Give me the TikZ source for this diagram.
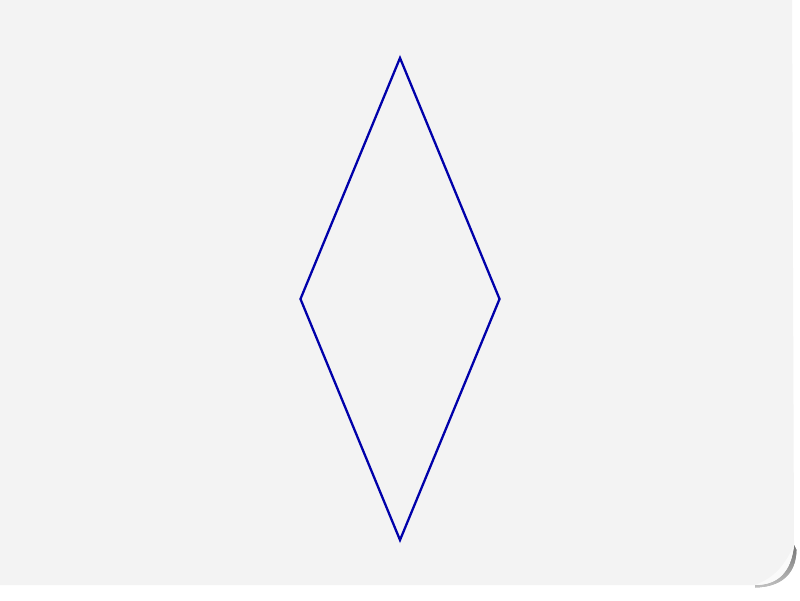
\documentclass[tikz,border=0pt]{standalone}
\usepackage{xcolor}
\definecolor{paper}{RGB}{243,243,243}
\definecolor{curl}{RGB}{250,250,250}
\definecolor{shade}{RGB}{225,225,225}
\definecolor{rhblue}{RGB}{0,0,170}
\usepackage{tikz}
\usetikzlibrary{shapes.geometric}
\tikzset{
  sheet/.style={fill=paper, draw=none},
  rhombus/.style={diamond, draw=rhblue, line width=1.3pt,
    minimum width=4cm, minimum height=9.66cm, inner sep=0pt}
}

\begin{document}
\begin{tikzpicture}

  %% Page and sheet of paper
  \fill[white] (0,0) rectangle (16,12);
  \useasboundingbox (0,0) rectangle (16,12);
  \fill[shade, opacity=0.6] (15.1,0.25) .. controls (15.6,0.26) and (15.92,0.5) .. (15.93,1.0)
    -- (15.88,1.1) .. controls (15.82,0.55) and (15.55,0.3) .. (15.1,0.3) -- cycle;
  \fill[sheet] (0,12) -- (15.84,12) -- (15.88,1.1)
    .. controls (15.82,0.55) and (15.55,0.3) .. (15.1,0.3)
    -- (0,0.3) -- cycle;
  \fill[curl] (15.88,1.1) .. controls (15.82,0.55) and (15.55,0.3) .. (15.1,0.3)
    .. controls (15.5,0.45) and (15.7,0.7) .. (15.88,1.1) -- cycle;

  %% Diamond
  \node[rhombus] (rhomb) at (8,6.02) {};

\end{tikzpicture}
\end{document}
